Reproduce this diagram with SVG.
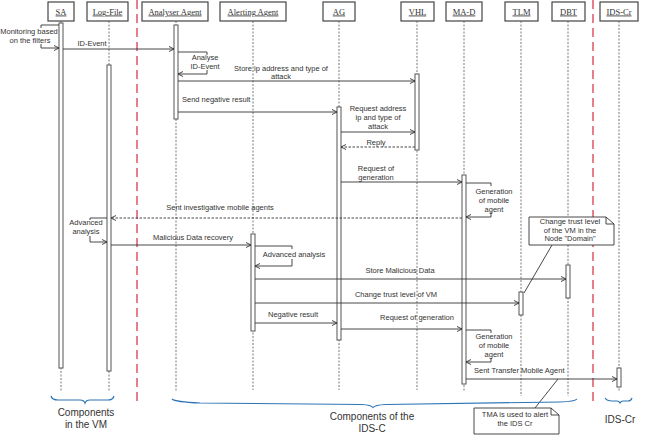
<svg xmlns="http://www.w3.org/2000/svg" width="646" height="437" viewBox="0 0 646 437">
<style>
.hdr{fill:#fff;stroke:#444;stroke-width:1.2}
.ht{font-family:"Liberation Serif",serif;font-size:8.5px;fill:#333;text-anchor:middle;text-decoration:underline}
.life{stroke:#555;stroke-width:0.8;stroke-dasharray:2,1.5;fill:none}
.act{fill:#fff;stroke:#555;stroke-width:1}
.msg{stroke:#333;stroke-width:0.9;fill:none;marker-end:url(#arr)}
.ret{stroke:#333;stroke-width:0.9;fill:none;stroke-dasharray:2.5,1.5;marker-end:url(#arr)}
.ln{stroke:#333;stroke-width:0.9;fill:none}
.lb{font-family:"Liberation Sans",Arial,sans-serif;font-size:7.5px;fill:#333;text-anchor:middle}
.lbs{font-family:"Liberation Sans",Arial,sans-serif;font-size:7.5px;fill:#333}
.red{stroke:#e06070;stroke-width:1.6;stroke-dasharray:9,5;fill:none}
.brace{stroke:#2e75b6;stroke-width:1.2;fill:none}
.bt{font-family:"Liberation Sans",Arial,sans-serif;font-size:10px;fill:#333;text-anchor:middle}
.note{fill:#fff;stroke:#333;stroke-width:0.9}
</style>
<defs>
<marker id="arr" viewBox="0 0 8 8" refX="7" refY="4" markerWidth="6" markerHeight="6" orient="auto" markerUnits="userSpaceOnUse">
<path d="M0,0.5 L7,4 L0,7.5" fill="none" stroke="#333" stroke-width="1.2"/>
</marker>
</defs>

<line class="red" x1="137" y1="0" x2="137" y2="405"/>
<line class="red" x1="593" y1="0" x2="593" y2="405"/>

<g id="SA">
<rect class="hdr" x="48" y="2" width="26" height="19"/>
<text class="ht" x="61" y="14.5">SA</text>
<line class="life" x1="61" y1="21" x2="61" y2="392"/>
<rect class="act" x="59" y="23" width="4" height="345"/>
</g>
<g id="LogFile">
<rect class="hdr" x="87" y="2" width="41" height="19"/>
<text class="ht" x="107.5" y="14.5">Log-File</text>
<line class="life" x1="109" y1="21" x2="109" y2="392"/>
<rect class="act" x="107" y="65" width="4" height="306"/>
</g>
<g id="AnalyserAgent">
<rect class="hdr" x="142" y="2" width="66" height="19"/>
<text class="ht" x="175" y="14.5">Analyser Agent</text>
<line class="life" x1="176" y1="21" x2="176" y2="391"/>
<rect class="act" x="174" y="25" width="4" height="94"/>
</g>
<g id="AlertingAgent">
<rect class="hdr" x="220" y="2" width="66" height="19"/>
<text class="ht" x="253" y="14.5">Alerting Agent</text>
<line class="life" x1="253" y1="21" x2="253" y2="390"/>
<rect class="act" x="251" y="234" width="4" height="97"/>
</g>
<g id="AG">
<rect class="hdr" x="323" y="2" width="32" height="19"/>
<text class="ht" x="339" y="14.5">AG</text>
<line class="life" x1="339" y1="21" x2="339" y2="390"/>
<rect class="act" x="337" y="107" width="4" height="233"/>
</g>
<g id="VHL">
<rect class="hdr" x="401" y="2" width="33" height="19"/>
<text class="ht" x="417.5" y="14.5">VHL</text>
<line class="life" x1="417" y1="21" x2="417" y2="390"/>
<rect class="act" x="415" y="74" width="4" height="76"/>
</g>
<g id="MAD">
<rect class="hdr" x="446" y="2" width="36" height="19"/>
<text class="ht" x="464" y="14.5">MA-D</text>
<line class="life" x1="464" y1="21" x2="464" y2="392"/>
<rect class="act" x="462" y="175" width="4" height="209"/>
</g>
<g id="TLM">
<rect class="hdr" x="505" y="2" width="33" height="19"/>
<text class="ht" x="521.5" y="14.5">TLM</text>
<line class="life" x1="521" y1="21" x2="521" y2="396"/>
<rect class="act" x="519" y="292" width="4" height="23"/>
</g>
<g id="DBT">
<rect class="hdr" x="552" y="2" width="33" height="19"/>
<text class="ht" x="568.5" y="14.5">DBT</text>
<line class="life" x1="568" y1="21" x2="568" y2="396"/>
<rect class="act" x="566" y="265" width="4" height="33"/>
</g>
<g id="IDSCr">
<rect class="hdr" x="600" y="2" width="38" height="19"/>
<text class="ht" x="619" y="14.5">IDS-Cr</text>
<line class="life" x1="619" y1="21" x2="619" y2="392"/>
<rect class="act" x="617" y="368" width="4" height="19"/>
</g>

<g id="connectors">
<!-- SA self loop -->
<path class="ln" d="M59,25 H41 V28"/>
<path class="msg" d="M41,44 V48 H59"/>
<text class="lb" x="29" y="34">Monitoring based</text>
<text class="lb" x="30" y="42.5">on the filters</text>

<path class="msg" d="M63,49 H174"/>
<text class="lb" x="92" y="46">ID-Event</text>

<path class="ln" d="M178,52 H207 V55"/>
<path class="msg" d="M207,70 V74 H178"/>
<text class="lb" x="205" y="60">Analyse</text>
<text class="lb" x="205" y="69">ID-Event</text>

<path class="msg" d="M178,81 H415"/>
<text class="lb" x="281" y="71">Store ip address and type of</text>
<text class="lb" x="281" y="79">attack</text>

<path class="msg" d="M178,112 H337"/>
<text class="lbs" x="182" y="102">Send negative result</text>

<path class="msg" d="M341,132 H415"/>
<text class="lb" x="378" y="111">Request address</text>
<text class="lb" x="378" y="120">ip and type of</text>
<text class="lb" x="378" y="129">attack</text>

<path class="ret" d="M415,147 H341"/>
<text class="lb" x="376" y="145">Reply</text>

<path class="msg" d="M341,182 H462"/>
<text class="lb" x="376" y="171">Request of</text>
<text class="lb" x="376" y="180">generation</text>

<path class="ln" d="M466,183 H491 V186"/>
<path class="msg" d="M491,212 V217 H466"/>
<text class="lb" x="494" y="194">Generation</text>
<text class="lb" x="494" y="203">of mobile</text>
<text class="lb" x="494" y="212">agent</text>

<path class="ret" d="M462,218 H111"/>
<text class="lb" x="220" y="210">Sent investigative mobile agents</text>

<path class="ln" d="M107,218 H90 V220"/>
<path class="msg" d="M90,236 V242 H107"/>
<text class="lb" x="86" y="225">Advanced</text>
<text class="lb" x="86" y="234">analysis</text>

<path class="msg" d="M111,245 H251"/>
<text class="lb" x="193" y="240">Malicious Data recovery</text>

<path class="ln" d="M255,246 H292 V249"/>
<path class="msg" d="M292,259 V266 H255"/>
<text class="lb" x="294" y="257">Advanced analysis</text>

<path class="msg" d="M255,279 H566"/>
<text class="lb" x="400" y="273">Store Malicious Data</text>

<path class="msg" d="M255,303 H519"/>
<text class="lb" x="396" y="297">Change trust level of VM</text>

<path class="msg" d="M255,323 H337"/>
<text class="lb" x="293" y="317">Negative result</text>

<path class="msg" d="M341,329 H462"/>
<text class="lb" x="417" y="320">Request of generation</text>

<path class="ln" d="M466,330 H491 V333"/>
<path class="msg" d="M491,358 V362 H466"/>
<text class="lb" x="494" y="339">Generation</text>
<text class="lb" x="494" y="348">of mobile</text>
<text class="lb" x="494" y="357">agent</text>

<path class="msg" d="M466,379 H617"/>
<text class="lbs" x="474" y="373">Sent Transfer Mobile Agent</text>

<line class="ln" x1="552" y1="245" x2="524" y2="293"/>
<line class="ln" x1="535" y1="408" x2="558" y2="379"/>
</g>

<g id="note1">
<path class="note" d="M529,217 H606 L614,224 V245 H529 Z"/>
<path class="ln" d="M606,217 V224 H614"/>
<text class="lb" x="570" y="224">Change trust level</text>
<text class="lb" x="570" y="232.5">of the VM in the</text>
<text class="lb" x="570" y="241">Node "Domain"</text>
</g>
<g id="note2">
<path class="note" d="M474,408 H551 L559,415 V434 H474 Z"/>
<path class="ln" d="M551,408 V415 H559"/>
<text class="lb" x="515" y="417">TMA is used to alert</text>
<text class="lb" x="515" y="426">the IDS Cr</text>
</g>

<g id="braces">
<path class="brace" d="M51,396 Q52,400 58,400 H80 Q84,400 85,403 Q86,400 90,400 H108 Q113,400 114,396"/>
<text class="bt" x="86" y="416">Components</text>
<text class="bt" x="86" y="428">in the VM</text>
<path class="brace" d="M172,399 Q175,402 200,403 L362,404.5 Q371,405 373,407.5 Q375,405 386,404.5 L560,402 Q575,401.5 577,399"/>
<text class="bt" x="372" y="420">Components of the</text>
<text class="bt" x="372" y="432">IDS-C</text>
<path class="brace" d="M605,398 Q607,401 612,401 H617 Q619,401 620,403 Q621,401 623,401 H628 Q631,401 632,398"/>
<text class="bt" x="620" y="423">IDS-Cr</text>
</g>
</svg>
